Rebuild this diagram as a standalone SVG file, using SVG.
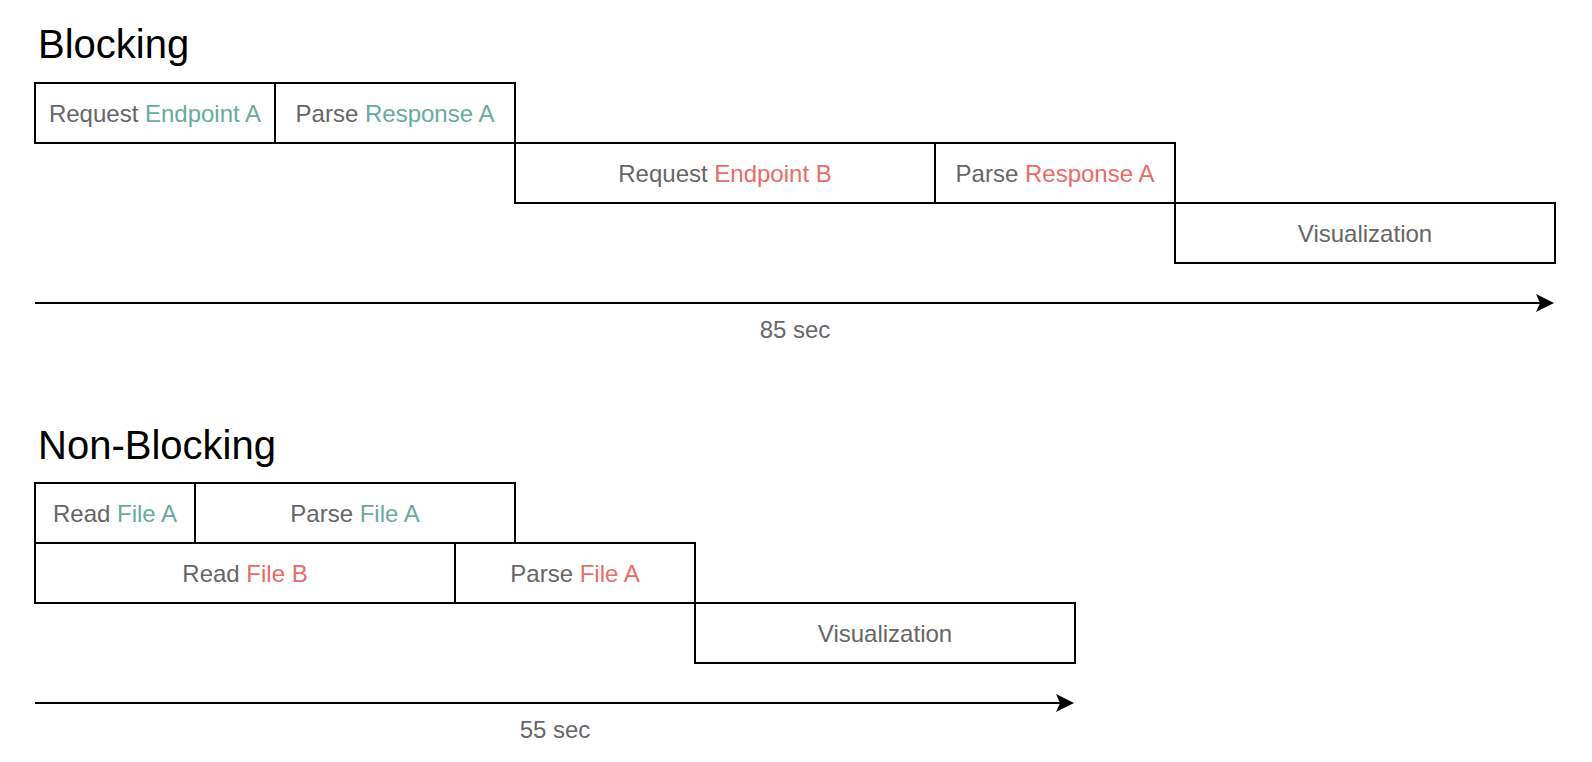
<svg xmlns="http://www.w3.org/2000/svg" width="1592" height="762" viewBox="0 0 1592 762">
<style>
.box{fill:#ffffff;stroke:#000000;stroke-width:2}
.lbl{font-family:"Liberation Sans",Arial,Helvetica,sans-serif;font-size:24px;fill:#666666;text-anchor:middle}
.title{font-family:"Liberation Sans",Arial,Helvetica,sans-serif;font-size:40px;fill:#000000}
.g{fill:#67AB9F}
.r{fill:#EA6B66}
.axis{stroke:#000000;stroke-width:2;fill:none}
</style>
<defs>
<marker id="arr" viewBox="0 0 18 18" refX="5" refY="9" markerWidth="18" markerHeight="18" markerUnits="userSpaceOnUse" orient="auto">
<path d="M0,0 L18,9 L0,18 L4,9 Z" fill="#000000"/>
</marker>
</defs>
<rect width="1592" height="762" fill="#ffffff"/>
<text id="title-blocking" class="title" x="38" y="58">Blocking</text>
<text id="title-nonblocking" class="title" x="38" y="459">Non-Blocking</text>

<g id="b-req-a"><rect class="box" x="35" y="83" width="240" height="60"/><text class="lbl" x="155" y="122">Request <tspan class="g">Endpoint A</tspan></text></g>
<g id="b-parse-a"><rect class="box" x="275" y="83" width="240" height="60"/><text class="lbl" x="395" y="122">Parse <tspan class="g">Response A</tspan></text></g>
<g id="b-req-b"><rect class="box" x="515" y="143" width="420" height="60"/><text class="lbl" x="725" y="182">Request <tspan class="r">Endpoint B</tspan></text></g>
<g id="b-parse-b"><rect class="box" x="935" y="143" width="240" height="60"/><text class="lbl" x="1055" y="182">Parse <tspan class="r">Response A</tspan></text></g>
<g id="b-vis"><rect class="box" x="1175" y="203" width="380" height="60"/><text class="lbl" x="1365" y="242">Visualization</text></g>

<g id="n-read-a"><rect class="box" x="35" y="483" width="160" height="60"/><text class="lbl" x="115" y="522">Read <tspan class="g">File A</tspan></text></g>
<g id="n-parse-a"><rect class="box" x="195" y="483" width="320" height="60"/><text class="lbl" x="355" y="522">Parse <tspan class="g">File A</tspan></text></g>
<g id="n-read-b"><rect class="box" x="35" y="543" width="420" height="60"/><text class="lbl" x="245" y="582">Read <tspan class="r">File B</tspan></text></g>
<g id="n-parse-b"><rect class="box" x="455" y="543" width="240" height="60"/><text class="lbl" x="575" y="582">Parse <tspan class="r">File A</tspan></text></g>
<g id="n-vis"><rect class="box" x="695" y="603" width="380" height="60"/><text class="lbl" x="885" y="642">Visualization</text></g>

<g id="connectors">
<line class="axis" x1="35" y1="303" x2="1541" y2="303" marker-end="url(#arr)"/>
<line class="axis" x1="35" y1="703" x2="1061" y2="703" marker-end="url(#arr)"/>
</g>
<text id="lbl-85" class="lbl" x="795" y="338">85 sec</text>
<text id="lbl-55" class="lbl" x="555" y="738">55 sec</text>
</svg>
